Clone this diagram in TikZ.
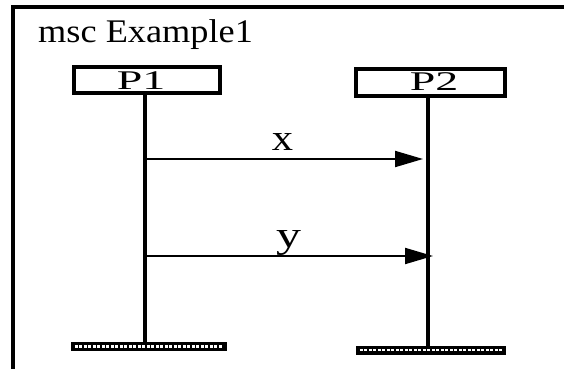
\documentclass[tikz,border=0pt]{standalone}
\usepackage{fontspec}
\setmainfont{Liberation Serif}
\usetikzlibrary{arrows.meta}
\tikzset{
  frameline/.style={line width=4pt},
  procbox/.style={draw, line width=4pt, inner sep=0pt, fill=white},
  proctext/.style={anchor=base, inner sep=0pt},
  lifeline/.style={line width=3.2pt},
  msg/.style={line width=2pt, -{Triangle[length=28pt,width=16pt]}},
  msglabel/.style={anchor=base, inner sep=0pt},
  endbar/.style={fill=black, inner sep=0pt},
  endpattern/.style={draw=white, line width=2.5pt, dash pattern=on 3pt off 1.5pt}
}
\begin{document}
\begin{tikzpicture}[x=1pt,y=-1pt]
\useasboundingbox (0,0) rectangle (564,369);
% frame
\draw[frameline] (564,7.5) -- (12.5,7.5) -- (12.5,369);
\node[anchor=base west, inner sep=0pt] (title) at (38,43)
  {\scalebox{1.1}[1]{\fontsize{33}{33}\selectfont msc Example1}};
% instance heads
\node[procbox, minimum width=146pt, minimum height=26pt] (p1) at (147,80) {};
\node[proctext] (p1t) at (141,89) {\scalebox{1.7}[1]{\fontsize{27}{27}\selectfont P1}};
\node[procbox, minimum width=149pt, minimum height=27pt] (p2) at (430,82.5) {};
\node[proctext] (p2t) at (434,90) {\scalebox{1.7}[1]{\fontsize{27}{27}\selectfont P2}};
% instance ends
\node[endbar, minimum width=156pt, minimum height=9pt] (e1) at (149,346.5) {};
\node[endbar, minimum width=150pt, minimum height=9pt] (e2) at (431,350) {};
\draw[endpattern] ([xshift=4pt]e1.west) -- ([xshift=-4pt]e1.east);
\draw[endpattern] ([xshift=4pt]e2.west) -- ([xshift=-4pt]e2.east);
% lifelines
\coordinate (l1a) at (145,95);
\coordinate (l1b) at (145,342);
\coordinate (l2a) at (428,98);
\coordinate (l2b) at (428,345.5);
\draw[lifeline] (l1a) -- (l1b);
\draw[lifeline] (l2a) -- (l2b);
% messages
\coordinate (xs) at (145,159);
\coordinate (xe) at (423,159);
\coordinate (ys) at (147,256);
\coordinate (ye) at (433,256);
\draw[msg] (xs) -- (xe);
\draw[msg] (ys) -- (ye);
\node[msglabel] (xl) at (282.5,150) {\scalebox{1.15}[1]{\fontsize{37}{37}\selectfont x}};
\node[msglabel] (yl) at (288.5,247) {\scalebox{1.35}[1]{\fontsize{37}{37}\selectfont y}};
\end{tikzpicture}
\end{document}
